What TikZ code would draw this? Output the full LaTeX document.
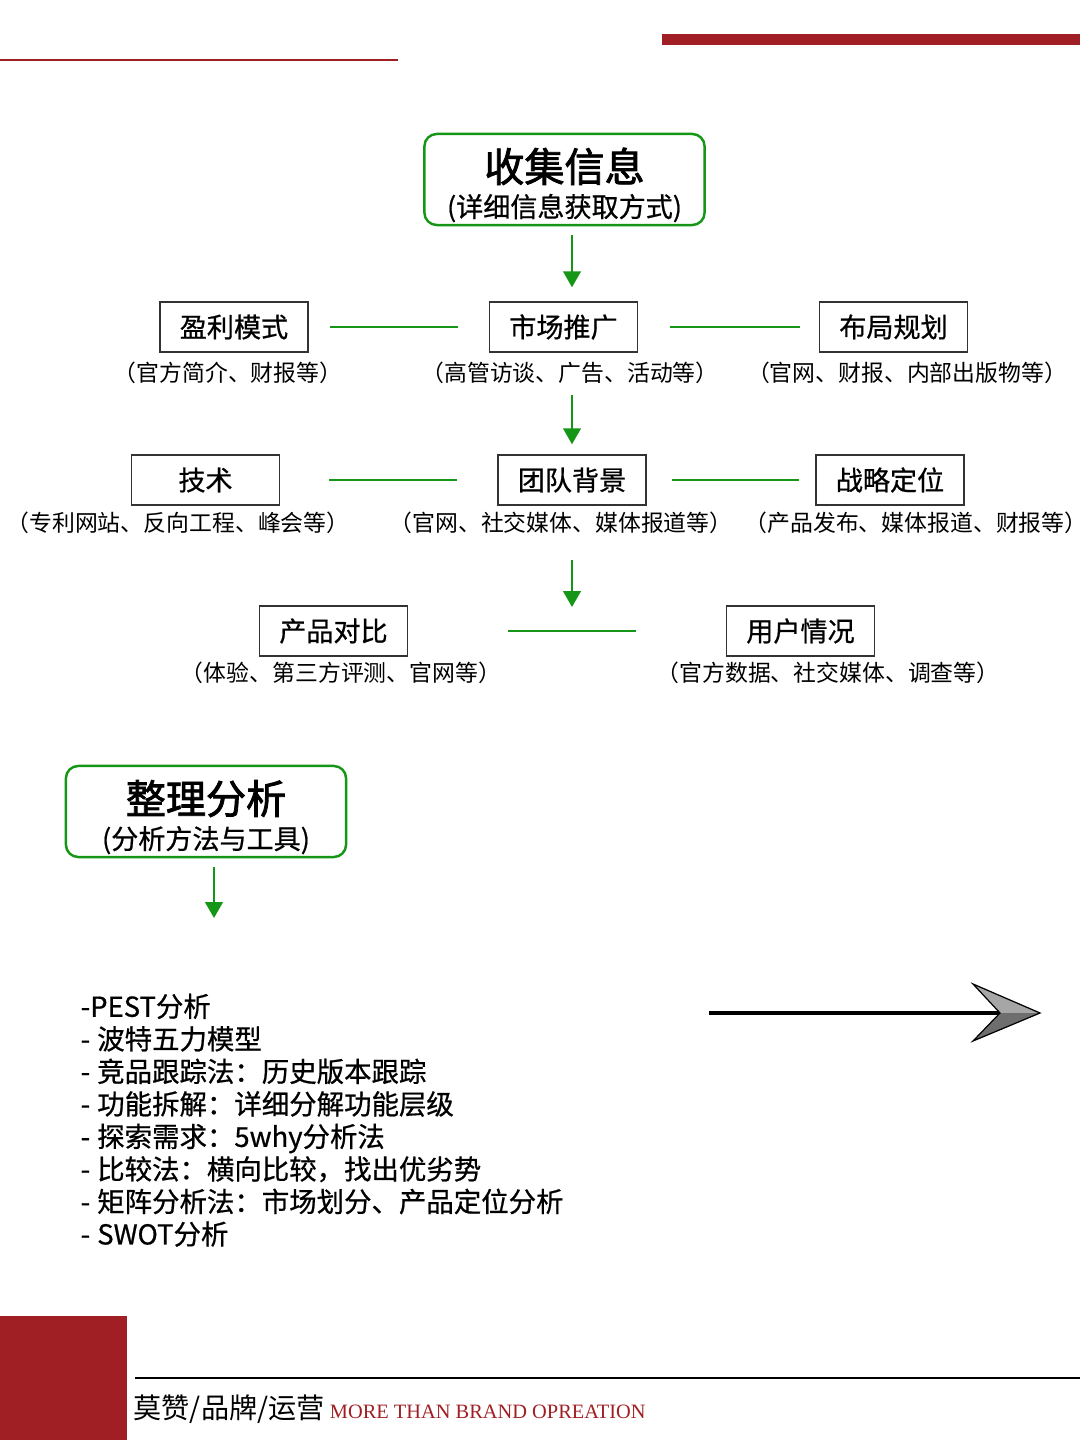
\documentclass[tikz,border=0pt]{standalone}
\usepackage{fontspec}
\setmainfont{Noto Sans CJK SC}
\newfontfamily\heavyfont[FakeBold=0.7]{Noto Sans CJK SC}
\newfontfamily\titlefont[FakeBold=2]{Noto Sans CJK SC}
\newfontfamily\sloganfont{Liberation Serif}
\usetikzlibrary{arrows.meta,positioning,calc}
\definecolor{brandred}{RGB}{160,31,36}
\definecolor{flowgreen}{RGB}{22,150,22}
\tikzset{
  infobox/.style={draw=black!80, line width=0.4pt, minimum width=1.48cm, minimum height=0.5cm, inner sep=0pt, font=\heavyfont\fontsize{7.7}{9}\selectfont},
  note/.style={inner sep=0pt, font=\fontsize{6.5}{8}\selectfont},
  headbox/.style={draw=flowgreen, line width=0.7pt, rounded corners=3.5pt, minimum width=2.8cm, minimum height=0.91cm, inner sep=0pt, align=center},
  flow/.style={draw=flowgreen, line width=0.6pt, -{Triangle[width=5pt,length=4.5pt]}},
  link/.style={draw=flowgreen, line width=0.6pt},
}

\begin{document}
\begin{tikzpicture}[x=0.01cm, y=-0.01cm]
  \useasboundingbox (0,0) rectangle (1080,1440);

  % Header bars
  \fill[brandred] (0,59) rectangle (398,61);
  \fill[brandred] (662,34) rectangle (1080,45);

  % Define nodes
  \node[headbox] (collect) at (564.5,179.5) {{\titlefont\fontsize{11.4}{13}\selectfont\rule{0pt}{12.8pt}收集信息}\\[-2pt]{\heavyfont\fontsize{7.7}{9}\selectfont (详细信息获取方式)}};

  \node[infobox] (profit) at (234,327) {盈利模式};
  \node[infobox] (market) at (563.5,327) {市场推广};
  \node[infobox] (layout) at (893.5,327) {布局规划};
  \node[note] (pnote) at (228,373) {（官方简介、财报等）};
  \node[note] (mnote) at (570,373) {（高管访谈、广告、活动等）};
  \node[note] (lnote) at (907,373) {（官网、财报、内部出版物等）};

  \node[infobox] (tech) at (205.5,480) {技术};
  \node[infobox] (team) at (572,480) {团队背景};
  \node[infobox] (strategy) at (890,480) {战略定位};
  \node[note] (tnote) at (178,523) {（专利网站、反向工程、峰会等）};
  \node[note] (bnote) at (561,523) {（官网、社交媒体、媒体报道等）};
  \node[note] (snote) at (916,523) {（产品发布、媒体报道、财报等）};

  \coordinate (gap) at (572,607);
  \node[infobox] (product) at (333.5,631) {产品对比};
  \node[infobox] (user) at (800.5,631) {用户情况};
  \node[note] (cnote) at (341,673) {（体验、第三方评测、官网等）};
  \node[note] (unote) at (828,673) {（官方数据、社交媒体、调查等）};

  \node[headbox] (analyse) at (206,811.5) {{\titlefont\fontsize{11.4}{13}\selectfont\rule{0pt}{12.8pt}整理分析}\\[-2pt]{\heavyfont\fontsize{7.7}{9}\selectfont (分析方法与工具)\hspace{0.2cm}}};
  \coordinate (tools) at (214,918);

  \node[anchor=north west, align=left, inner sep=0pt, font=\heavyfont\fontsize{7.8}{9.25}\selectfont] (methods) at (80,993)
    {-PEST分析\\-\hspace{2pt}波特五力模型\\-\hspace{2pt}竞品跟踪法：历史版本跟踪\\-\hspace{2pt}功能拆解：详细分解功能层级\\-\hspace{2pt}探索需求：5why分析法\\-\hspace{2pt}比较法：横向比较，找出优劣势\\-\hspace{2pt}矩阵分析法：市场划分、产品定位分析\\-\hspace{2pt}SWOT分析};

  \coordinate (bigstart) at (709,1013);
  \coordinate (bignotch) at (1000,1013);
  \coordinate (bigtip) at (1040,1013);

  % Draw arrows
  \draw[flow, shorten <=0.09cm, shorten >=0.14cm] (collect.south -| team) -- (market.north -| team);
  \draw[flow, shorten <=0.1cm, shorten >=0.1cm] (mnote.south -| team) -- (team.north);
  \draw[flow, shorten <=0.25cm] (bnote.south -| team) -- (gap);
  \draw[flow, shorten <=0.09cm] (analyse.south -| tools) -- (tools);

  \draw[link, shorten <=0.21cm, shorten >=0.31cm] (profit) -- (market);
  \draw[link, shorten <=0.32cm, shorten >=0.19cm] (market) -- (layout);
  \draw[link, shorten <=0.49cm, shorten >=0.40cm] (tech) -- (team);
  \draw[link, shorten <=0.25cm, shorten >=0.16cm] (team) -- (strategy);
  \draw[link, shorten <=1.0cm, shorten >=0.9cm] (product) -- (user);

  % Big arrow
  \draw[line width=1.4pt] (bigstart) -- (bignotch);
  \fill[black!35] (973,984) -- (bigtip) -- (bignotch) -- cycle;
  \fill[black!57] (bignotch) -- (bigtip) -- (973,1041) -- cycle;
  \draw[line width=0.35pt, line join=miter] (973,984) -- (bigtip) -- (973,1041) -- (bignotch) -- cycle;

  % Footer
  \fill[brandred] (0,1316) rectangle (127,1440);
  \draw[line width=0.6pt] (135,1378) -- (1080,1378);
  \node[anchor=base west, inner sep=0pt, font=\fontsize{8}{9}\selectfont] (brand) at (133,1418) {莫赞/品牌/运营};
  \node[anchor=base west, inner sep=0pt, xshift=0.04cm, text=brandred, font=\sloganfont\fontsize{5.8}{7}\selectfont] (slogan) at (brand.base east) {MORE THAN BRAND OPREATION};
\end{tikzpicture}
\end{document}
